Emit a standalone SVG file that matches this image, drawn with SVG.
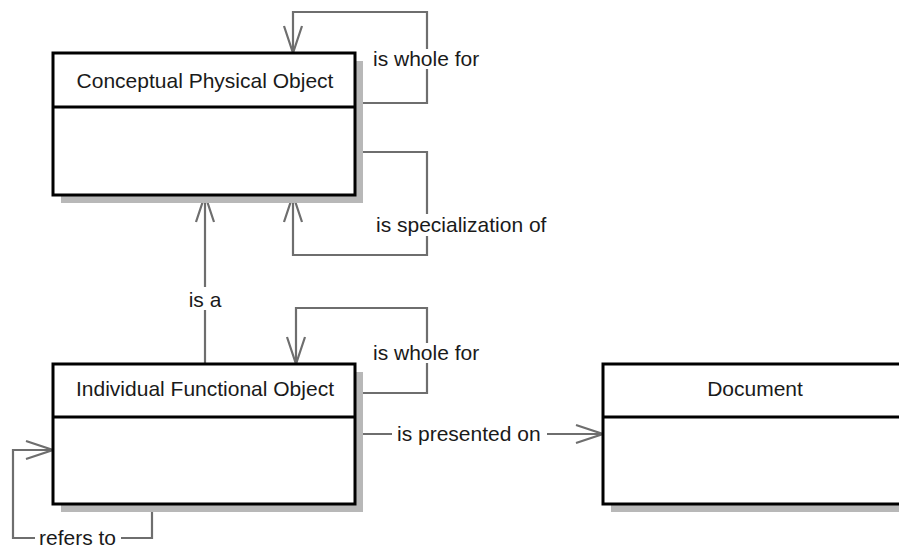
<svg xmlns="http://www.w3.org/2000/svg" width="899" height="549" viewBox="0 0 899 549">
<style>
.shadow{fill:#b8b8b8}
.box{fill:#ffffff;stroke:#000000;stroke-width:3}
.div{stroke:#000000;stroke-width:3}
.name{font-family:"Liberation Sans",Arial,sans-serif;font-size:21px;fill:#1a1a1a;text-anchor:middle}
.lbl{font-family:"Liberation Sans",Arial,sans-serif;font-size:21px;fill:#1a1a1a}
.conn{fill:none;stroke:#6e6e6e;stroke-width:2.2}
.bg{fill:#ffffff}
</style>
<defs>
<marker id="arr" viewBox="-30 -12 32 24" refX="0" refY="0" markerWidth="32" markerHeight="24" markerUnits="userSpaceOnUse" orient="auto">
<path d="M-27,-9 L0,0 L-27,9" fill="none" stroke="#6e6e6e" stroke-width="2.2"/>
</marker>
</defs>
<rect width="899" height="549" fill="#ffffff"/>
<g id="connectors">
<path class="conn" d="M355,103 H427 V12 H293 V53" marker-end="url(#arr)"/>
<path class="conn" d="M355,152 H427 V255 H293 V195" marker-end="url(#arr)"/>
<path class="conn" d="M205,364 V195" marker-end="url(#arr)"/>
<path class="conn" d="M355,393 H427 V308 H296 V364" marker-end="url(#arr)"/>
<path class="conn" d="M355,434 H603" marker-end="url(#arr)"/>
<path class="conn" d="M152,504 V538 H13 V450 H53" marker-end="url(#arr)"/>
<rect class="bg" x="370" y="49" width="114" height="20"/>
<text class="lbl" x="373" y="66">is whole for</text>
<rect class="bg" x="373" y="214" width="180" height="22"/>
<text class="lbl" x="376" y="232">is specialization of</text>
<rect class="bg" x="186" y="287" width="38" height="23"/>
<text class="lbl" x="205" y="307" text-anchor="middle">is a</text>
<rect class="bg" x="370" y="343" width="114" height="20"/>
<text class="lbl" x="373" y="360">is whole for</text>
<rect class="bg" x="392" y="424" width="155" height="20"/>
<text class="lbl" x="397" y="441">is presented on</text>
<rect class="bg" x="35" y="529" width="86" height="20"/>
<text class="lbl" x="39" y="545">refers to</text>
</g>
<g id="conceptual-physical-object">
<rect class="shadow" x="61" y="61" width="302" height="142"/>
<rect class="box" x="53" y="53" width="302" height="142"/>
<line class="div" x1="53" y1="107" x2="355" y2="107"/>
<text class="name" x="205" y="88">Conceptual Physical Object</text>
</g>
<g id="individual-functional-object">
<rect class="shadow" x="61" y="372" width="302" height="140"/>
<rect class="box" x="53" y="364" width="302" height="140"/>
<line class="div" x1="53" y1="417" x2="355" y2="417"/>
<text class="name" x="205" y="396">Individual Functional Object</text>
</g>
<g id="document">
<rect class="shadow" x="611" y="372" width="304" height="140"/>
<rect class="box" x="603" y="364" width="304" height="140"/>
<line class="div" x1="603" y1="417" x2="907" y2="417"/>
<text class="name" x="755" y="396">Document</text>
</g>
</svg>
